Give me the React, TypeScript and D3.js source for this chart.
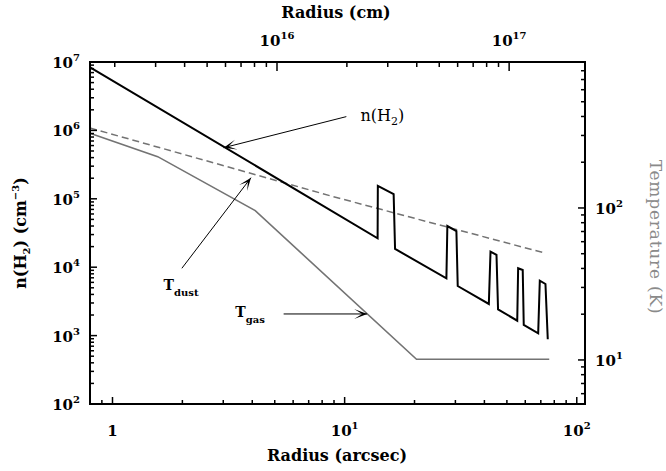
import React from 'react';
import * as d3 from 'd3';

const W = 666;
const H = 471;
const plot = { left: 90, right: 585, top: 62, bottom: 404 };

// ---- data ----
const nH2Radius = [0.801, 13.87, 13.9, 16.26, 16.49, 27.44, 27.7, 30.3, 30.7, 41.8, 42.5, 45.1, 45.8, 55.4, 55.9, 58.5, 59.1, 68.2, 69.3, 73.3, 75.0];
const nH2Density = [8.36e6, 2.65e4, 1.55e5, 1.17e5, 1.85e4, 6.89e3, 4.0e4, 3.38e4, 5.31e3, 2.9e3, 1.69e4, 1.51e4, 2.42e3, 1.65e3, 9.64e3, 9.1e3, 1.43e3, 1.08e3, 6.35e3, 5.68e3, 8.83e2];

const tDustRadius = [0.8, 8.94, 73.3];
const tDustTemp = [336, 118.7, 50.4];

const tGasRadius = [0.8, 1.566, 4.12, 20.4, 76.1];
const tGasTemp = [310, 217.6, 96, 10.1, 10.1];

const radiusDomain = [0.8, 108.5];
const densityDomain = [1e2, 1e7];
const tempDomain = [5.13, 913];
const cmPerArcsec = 1.956e15;

const bottomMajor = [1, 10, 100];
const bottomLabels = [['1', ''], ['10', '1'], ['10', '2']];
const topMajor = [1e16, 1e17];
const topLabels = [['10', '16'], ['10', '17']];
const leftMajor = [1e2, 1e3, 1e4, 1e5, 1e6, 1e7];
const leftLabels = [['10', '2'], ['10', '3'], ['10', '4'], ['10', '5'], ['10', '6'], ['10', '7']];
const rightMajor = [10, 100];
const rightLabels = [['10', '1'], ['10', '2']];

// annotation anchors in data coordinates
const nArrow = { from: [10.17, 1.59e6], to: [3.01, 5.58e5], label: [11.69, 1.37e6] };
const dustArrow = { from: [1.99, 40.1], to: [3.95, 158.2], label: [1.66, 28.9] };
const gasArrow = { from: [5.46, 20.07], to: [12.5, 20.07], label: [3.38, 19.1] };

const FONT = "'DejaVu Serif', 'Liberation Serif', serif";
const GRAY = '#737373';

function minorTicks(domain: number[], exclude: number[]) {
  const out: number[] = [];
  const lo = Math.floor(Math.log10(domain[0]));
  const hi = Math.ceil(Math.log10(domain[1]));
  for (let e = lo; e <= hi; e++) {
    for (let m = 1; m <= 9; m++) {
      const v = m * Math.pow(10, e);
      if (v > domain[0] * 1.02 && v < domain[1] * 0.97 && !exclude.includes(v)) out.push(v);
    }
  }
  return out;
}

function arrowHead(x1: number, y1: number, x2: number, y2: number, len = 13, half = 5, notch = 8) {
  const dx = x2 - x1, dy = y2 - y1;
  const L = Math.hypot(dx, dy);
  const ux = dx / L, uy = dy / L;
  const px = -uy, py = ux;
  const bx = x2 - ux * len, by = y2 - uy * len;
  const nx = x2 - ux * (len - notch), ny = y2 - uy * (len - notch);
  return `M${x2},${y2}L${bx + px * half},${by + py * half}L${nx},${ny}L${bx - px * half},${by - py * half}Z`;
}

const PowLabel = ({ x, y, base, exp, anchor, fs = 15 }: any) => (
  <text x={x} y={y} textAnchor={anchor} fontFamily={FONT} fontWeight="bold" fontSize={fs} fill="#000">
    {base}
    {exp ? <tspan dy={-7} fontSize={10}>{exp}</tspan> : null}
  </text>
);

export default function App() {
  const x = d3.scaleLog().domain(radiusDomain).range([plot.left, plot.right]);
  const xTop = d3.scaleLog().domain(radiusDomain.map((d) => d * cmPerArcsec)).range([plot.left, plot.right]);
  const yN = d3.scaleLog().domain(densityDomain).range([plot.bottom, plot.top]);
  const yT = d3.scaleLog().domain(tempDomain).range([plot.bottom, plot.top]);

  const nLine = d3.line<number>().x((d) => x(nH2Radius[d])).y((d) => yN(nH2Density[d]));
  const dustLine = d3.line<number>().x((d) => x(tDustRadius[d])).y((d) => yT(tDustTemp[d]));
  const gasLine = d3.line<number>().x((d) => x(tGasRadius[d])).y((d) => yT(tGasTemp[d]));

  const bottomMinor = minorTicks(radiusDomain, bottomMajor);
  const topDomain = radiusDomain.map((d) => d * cmPerArcsec);
  const topMinor = minorTicks(topDomain, topMajor).filter((v) => xTop(v) < plot.right - 8);
  const leftMinor = minorTicks(densityDomain, leftMajor);
  const rightMinor = minorTicks(tempDomain, rightMajor).filter((v) => yT(v) > plot.top + 3);

  const MAJ = 7, MIN = 4;

  const nA = {
    x1: x(nArrow.from[0]), y1: yN(nArrow.from[1]), x2: x(nArrow.to[0]), y2: yN(nArrow.to[1]),
  };
  const dA = {
    x1: x(dustArrow.from[0]), y1: yT(dustArrow.from[1]), x2: x(dustArrow.to[0]), y2: yT(dustArrow.to[1]),
  };
  const gA = {
    x1: x(gasArrow.from[0]), y1: yT(gasArrow.from[1]), x2: x(gasArrow.to[0]), y2: yT(gasArrow.to[1]),
  };

  return (
    <svg width={W} height={H} style={{ position: 'absolute', left: 0, top: 0, background: '#fff' }}>
      <rect x={0} y={0} width={W} height={H} fill="#fff" />
      {/* data lines */}
      <path d={dustLine(d3.range(tDustRadius.length)) || ''} fill="none" stroke={GRAY} strokeWidth={1.5} strokeDasharray="7 4" />
      <path d={gasLine(d3.range(tGasRadius.length)) || ''} fill="none" stroke={GRAY} strokeWidth={1.6} />
      <path d={nLine(d3.range(nH2Radius.length)) || ''} fill="none" stroke="#000" strokeWidth={2} strokeLinejoin="miter" />

      {/* ticks */}
      <g stroke="#000" strokeWidth={1.5}>
        {bottomMajor.map((v) => (
          <line key={'bM' + v} x1={x(v)} x2={x(v)} y1={plot.bottom} y2={plot.bottom - MAJ} />
        ))}
        {bottomMinor.map((v) => (
          <line key={'bm' + v} x1={x(v)} x2={x(v)} y1={plot.bottom} y2={plot.bottom - MIN} />
        ))}
        {topMajor.map((v) => (
          <line key={'tM' + v} x1={xTop(v)} x2={xTop(v)} y1={plot.top} y2={plot.top + 9} />
        ))}
        {topMinor.map((v) => (
          <line key={'tm' + v} x1={xTop(v)} x2={xTop(v)} y1={plot.top} y2={plot.top + MIN + 1} />
        ))}
        {leftMajor.map((v) => (
          <line key={'lM' + v} x1={plot.left} x2={plot.left + MAJ} y1={yN(v)} y2={yN(v)} />
        ))}
        {leftMinor.map((v) => (
          <line key={'lm' + v} x1={plot.left} x2={plot.left + MIN} y1={yN(v)} y2={yN(v)} />
        ))}
        {rightMajor.map((v) => (
          <line key={'rM' + v} x1={plot.right} x2={plot.right - MAJ} y1={yT(v)} y2={yT(v)} />
        ))}
        {rightMinor.map((v) => (
          <line key={'rm' + v} x1={plot.right} x2={plot.right - MIN} y1={yT(v)} y2={yT(v)} />
        ))}
      </g>

      {/* frame */}
      <rect x={plot.left} y={plot.top} width={plot.right - plot.left} height={plot.bottom - plot.top} fill="none" stroke="#000" strokeWidth={2} />

      {/* tick labels */}
      {bottomMajor.map((v, i) => (
        <PowLabel key={'bl' + v} x={x(v)} y={436} base={bottomLabels[i][0]} exp={bottomLabels[i][1]} anchor="middle" />
      ))}
      {topMajor.map((v, i) => (
        <PowLabel key={'tl' + v} x={xTop(v)} y={46} base={topLabels[i][0]} exp={topLabels[i][1]} anchor="middle" />
      ))}
      {leftMajor.map((v, i) => (
        <PowLabel key={'ll' + v} x={plot.left - 10} y={yN(v) + 6} base={leftLabels[i][0]} exp={leftLabels[i][1]} anchor="end" />
      ))}
      {rightMajor.map((v, i) => (
        <PowLabel key={'rl' + v} x={plot.right + 10} y={yT(v) + 6} base={rightLabels[i][0]} exp={rightLabels[i][1]} anchor="start" />
      ))}

      {/* axis titles */}
      <text x={336} y={18} textAnchor="middle" fontFamily={FONT} fontWeight="bold" fontSize={16}>Radius (cm)</text>
      <text x={337} y={461} textAnchor="middle" fontFamily={FONT} fontWeight="bold" fontSize={16}>Radius (arcsec)</text>
      <text transform="translate(26,233) rotate(-90)" textAnchor="middle" fontFamily={FONT} fontWeight="bold" fontSize={16}>
        n(H<tspan dy={4} fontSize={10}>2</tspan><tspan dy={-4}>) (cm</tspan><tspan dy={-7} fontSize={10}>−3</tspan><tspan dy={7}>)</tspan>
      </text>
      <text transform="translate(650,237) rotate(90)" textAnchor="middle" fontFamily={FONT} fontSize={17} letterSpacing={0.8} fill="#8a8a8a">
        Temperature (K)
      </text>

      {/* annotations */}
      <g stroke="#000" strokeWidth={1}>
        <line x1={nA.x1} y1={nA.y1} x2={nA.x2} y2={nA.y2} />
        <line x1={dA.x1} y1={dA.y1} x2={dA.x2} y2={dA.y2} />
        <line x1={gA.x1} y1={gA.y1} x2={gA.x2} y2={gA.y2} />
      </g>
      <path d={arrowHead(nA.x1, nA.y1, nA.x2, nA.y2)} fill="#000" />
      <path d={arrowHead(dA.x1, dA.y1, dA.x2, dA.y2)} fill="#000" />
      <path d={arrowHead(gA.x1, gA.y1, gA.x2, gA.y2)} fill="#000" />

      <text x={x(nArrow.label[0])} y={yN(nArrow.label[1])} fontFamily={FONT} fontSize={16}>
        n(H<tspan dy={4} fontSize={11}>2</tspan><tspan dy={-4}>)</tspan>
      </text>
      <text x={x(dustArrow.label[0])} y={yT(dustArrow.label[1])} fontFamily={FONT} fontWeight="bold" fontSize={14}>
        T<tspan dy={6} fontSize={10}>dust</tspan>
      </text>
      <text x={x(gasArrow.label[0])} y={yT(gasArrow.label[1])} fontFamily={FONT} fontWeight="bold" fontSize={14}>
        T<tspan dy={6} fontSize={10}>gas</tspan>
      </text>
    </svg>
  );
}
